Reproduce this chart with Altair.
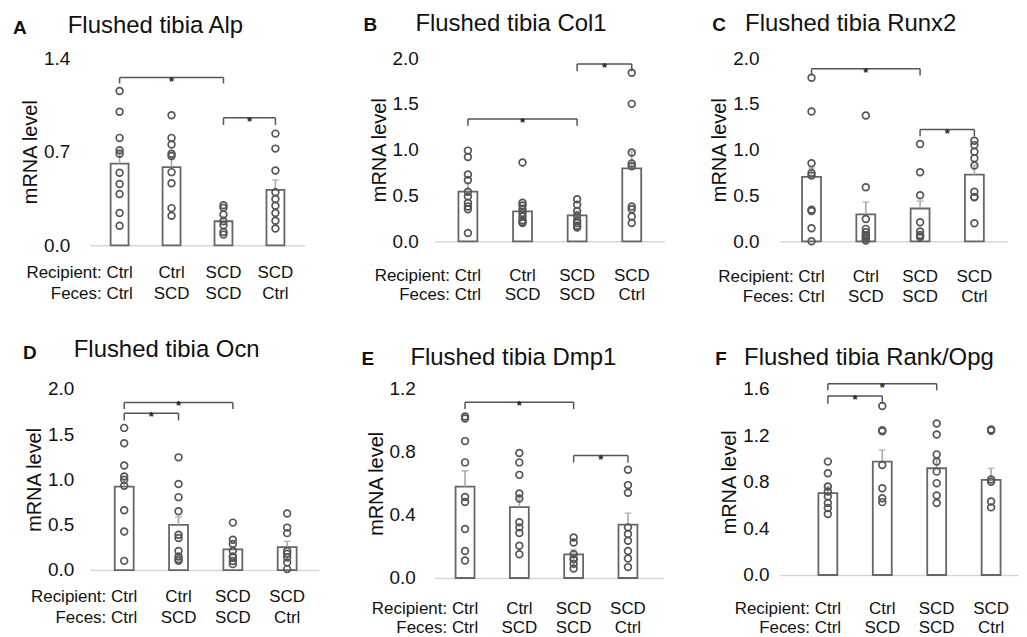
import altair as alt
import pandas as pd

FONT = "Liberation Sans"

# ---------------- data ----------------
GROUP_INDEX = [0, 1, 2, 3]
RECIPIENT = ["Ctrl", "Ctrl", "SCD", "SCD"]
FECES = ["Ctrl", "SCD", "SCD", "Ctrl"]

# A  Alp
ALP_MEAN = [0.61, 0.585, 0.18, 0.414]
ALP_ERR = [0.71, 0.65, 0.215, 0.489]
ALP_PTS = [
    [1.154, 0.998, 0.803, 0.71, 0.685, 0.542, 0.459, 0.384, 0.241, 0.146],
    [0.973, 0.803, 0.753, 0.685, 0.667, 0.547, 0.464, 0.278, 0.221],
    [0.30, 0.28, 0.23, 0.18, 0.15, 0.10, 0.08],
    [0.835, 0.723, 0.559, 0.396, 0.346, 0.296, 0.241, 0.183, 0.125],
]
ALP_BR_FROM = [0, 2]
ALP_BR_TO = [2, 3]
ALP_BR_Y = [1.254, 0.953]
ALP_BR_TICK = [1.21, 0.90]
ALP_TICKS = [0.0, 0.7, 1.4]

# B  Col1
COL1_MEAN = [0.543, 0.327, 0.284, 0.795]
COL1_ERR = [0.63, 0.40, 0.33, 0.98]
COL1_PTS = [
    [0.99, 0.92, 0.73, 0.67, 0.54, 0.49, 0.42, 0.38, 0.35, 0.09],
    [0.86, 0.42, 0.39, 0.35, 0.31, 0.27, 0.23, 0.21, 0.20],
    [0.46, 0.40, 0.33, 0.28, 0.23, 0.20, 0.17, 0.15],
    [1.84, 1.50, 0.97, 0.85, 0.82, 0.38, 0.35, 0.27, 0.20],
]
COL1_BR_FROM = [0, 2]
COL1_BR_TO = [2, 3]
COL1_BR_Y = [1.335, 1.935]
COL1_BR_TICK = [1.26, 1.856]
COL1_TICKS = [0.0, 0.5, 1.0, 1.5, 2.0]

# C  Runx2
RUNX2_MEAN = [0.703, 0.294, 0.358, 0.728]
RUNX2_ERR = [0.80, 0.43, 0.44, 0.83]
RUNX2_PTS = [
    [1.785, 1.416, 0.853, 0.746, 0.717, 0.344, 0.33, 0.143, 0.0],
    [1.373, 0.591, 0.244, 0.136, 0.10, 0.065, 0.05, 0.03, 0.01],
    [1.061, 0.753, 0.502, 0.208, 0.108, 0.07, 0.05, 0.047],
    [1.097, 1.05, 0.978, 0.907, 0.828, 0.541, 0.484, 0.48, 0.197],
]
RUNX2_BR_FROM = [0, 2]
RUNX2_BR_TO = [2, 3]
RUNX2_BR_Y = [1.882, 1.219]
RUNX2_BR_TICK = [1.81, 1.147]
RUNX2_TICKS = [0.0, 0.5, 1.0, 1.5, 2.0]

# D  Ocn
OCN_MEAN = [0.919, 0.497, 0.227, 0.252]
OCN_ERR = [1.0, 0.587, 0.26, 0.317]
OCN_PTS = [
    [1.568, 1.398, 1.153, 1.031, 0.995, 0.93, 0.659, 0.425, 0.101],
    [1.243, 0.948, 0.804, 0.649, 0.389, 0.353, 0.209, 0.15, 0.12, 0.101],
    [0.523, 0.335, 0.288, 0.209, 0.15, 0.137, 0.10, 0.065],
    [0.623, 0.468, 0.407, 0.209, 0.18, 0.137, 0.083, 0.01],
]
OCN_BR_FROM = [0, 0]
OCN_BR_TO = [2, 1]
OCN_BR_Y = [1.849, 1.73]
OCN_BR_TICK = [1.777, 1.65]
OCN_TICKS = [0.0, 0.5, 1.0, 1.5, 2.0]

# E  Dmp1
DMP1_MEAN = [0.579, 0.45, 0.15, 0.339]
DMP1_ERR = [0.679, 0.50, 0.18, 0.411]
DMP1_PTS = [
    [1.024, 1.011, 0.868, 0.733, 0.514, 0.482, 0.311, 0.171, 0.111],
    [0.793, 0.733, 0.654, 0.536, 0.504, 0.354, 0.321, 0.285, 0.204, 0.15],
    [0.257, 0.225, 0.15, 0.12, 0.118, 0.09, 0.06],
    [0.686, 0.589, 0.54, 0.321, 0.279, 0.236, 0.171, 0.124, 0.069],
]
DMP1_BR_FROM = [0, 2]
DMP1_BR_TO = [2, 3]
DMP1_BR_Y = [1.114, 0.776]
DMP1_BR_TICK = [1.071, 0.733]
DMP1_TICKS = [0.0, 0.4, 0.8, 1.2]

# F  Rank/Opg
RANK_MEAN = [0.703, 0.974, 0.917, 0.817]
RANK_ERR = [0.76, 1.073, 1.0, 0.917]
RANK_PTS = [
    [0.974, 0.874, 0.76, 0.717, 0.675, 0.618, 0.575, 0.524],
    [1.452, 1.244, 1.235, 0.945, 0.746, 0.66, 0.626],
    [1.301, 1.207, 1.036, 0.974, 0.888, 0.789, 0.683, 0.618],
    [1.25, 1.24, 0.82, 0.80, 0.632, 0.581],
]
RANK_BR_FROM = [0, 0]
RANK_BR_TO = [2, 1]
RANK_BR_Y = [1.643, 1.537]
RANK_BR_TICK = [1.586, 1.472]
RANK_TICKS = [0.0, 0.4, 0.8, 1.2, 1.6]

# ---------------- layout (styling only) ----------------
LAYOUT = {
    "A": dict(W=216, H=188, xdom=[-0.48, 3.47], bar=18, lpad=20, lx=-77, ly=-24, tx=-22, ty=-25, c1=33, c2=54),
    "B": dict(W=231, H=184, xdom=[-0.524, 3.507], bar=19, lpad=16, lx=-71, ly=-27, tx=-19, ty=-27, c1=40, c2=59),
    "C": dict(W=228, H=184, xdom=[-0.49, 3.51], bar=19, lpad=21, lx=-68, ly=-27, tx=-35, ty=-27, c1=41, c2=61),
    "D": dict(W=230, H=182, xdom=[-0.544, 3.49], bar=19, lpad=16, lx=-67, ly=-30, tx=-16, ty=-32, c1=32, c2=53),
    "E": dict(W=230, H=190, xdom=[-0.474, 3.561], bar=19, lpad=19, lx=-73, ly=-24, tx=-24, ty=-24, c1=36, c2=55),
    "F": dict(W=240, H=187, xdom=[-0.789, 3.421], bar=19, lpad=11, lx=-65, ly=-24, tx=-36, ty=-24, c1=39, c2=58),
}

BAR_STROKE = "#666666"
PT_STROKE = "#555555"
ERR_COLOR = "#a8a8a8"
BR_COLOR = "#555555"
TXT = "#111111"


def panel(letter, title, mean, err, pts, br_from, br_to, br_y, br_tick, ticks):
    lay = LAYOUT[letter]
    W, H = lay["W"], lay["H"]
    xs = alt.Scale(domain=lay["xdom"], nice=False, zero=False)
    ys = alt.Scale(domain=[0, ticks[-1]], nice=False, zero=True)
    xaxis = alt.Axis(labels=False, ticks=False, grid=False, domain=True,
                     domainColor="#d6d6d6", domainWidth=1.6)
    yaxis = alt.Axis(values=ticks, format=".1f", grid=False, domain=False, ticks=False,
                     labelFont=FONT, labelFontSize=19, labelColor=TXT, labelPadding=lay["lpad"],
                     titleFont=FONT, titleFontSize=20, titleFontWeight="normal", titleColor=TXT,
                     titlePadding=3)

    def X(f):
        return alt.X(f + ":Q", scale=xs, axis=xaxis, title=None)

    def Y(f):
        return alt.Y(f + ":Q", scale=ys, axis=yaxis, title="mRNA level")

    bars_df = pd.DataFrame({"i": GROUP_INDEX, "mean": mean, "err": err,
                            "rec": RECIPIENT, "fec": FECES})
    rows = []
    for gi, vals in zip(GROUP_INDEX, pts):
        for v in vals:
            rows.append({"i": gi, "v": v})
    pts_df = pd.DataFrame(rows)
    br_df = pd.DataFrame({"a": br_from, "b": br_to, "h": br_y, "t": br_tick})
    ends_df = pd.DataFrame({"e": list(br_from) + list(br_to),
                            "h": list(br_y) * 2, "t": list(br_tick) * 2})

    bars = alt.Chart(bars_df).mark_bar(orient="vertical", size=lay["bar"], fill="white",
                                       stroke=BAR_STROKE, strokeWidth=1.8).encode(
        x=X("i"), y=Y("mean"))
    err_line = alt.Chart(bars_df).mark_rule(color=ERR_COLOR, strokeWidth=1.6).encode(
        x=X("i"), y=Y("mean"), y2="err:Q")
    err_cap = alt.Chart(bars_df).mark_tick(orient="horizontal", size=7, thickness=1.6,
                                           color=ERR_COLOR).encode(x=X("i"), y=Y("err"))
    points = alt.Chart(pts_df).mark_point(shape="circle", filled=False, color=PT_STROKE,
                                          strokeWidth=1.7, size=46, opacity=1).encode(
        x=X("i"), y=Y("v"))
    br_line = alt.Chart(br_df).mark_rule(color=BR_COLOR, strokeWidth=1.5).encode(
        x=X("a"), x2="b:Q", y=Y("h"))
    br_end = alt.Chart(ends_df).mark_rule(color=BR_COLOR, strokeWidth=1.5).encode(
        x=X("e"), y=Y("h"), y2="t:Q")
    star = alt.Chart(br_df).transform_calculate(mid="(datum.a + datum.b) / 2").mark_text(
        text="*", font=FONT, fontSize=13, fontWeight="bold", color="#222222", dy=4).encode(
        x=X("mid"), y=Y("h"))

    rec_txt = alt.Chart(bars_df).mark_text(font=FONT, fontSize=17, color=TXT,
                                           baseline="alphabetic").encode(
        x=X("i"), y=alt.value(H + lay["c1"]), text="rec:N")
    fec_txt = alt.Chart(bars_df).mark_text(font=FONT, fontSize=17, color=TXT,
                                           baseline="alphabetic").encode(
        x=X("i"), y=alt.value(H + lay["c2"]), text="fec:N")
    head_df = pd.DataFrame({"i": [0], "r": ["Recipient:"], "f": ["Feces:"]})
    rec_head = alt.Chart(head_df).mark_text(font=FONT, fontSize=17, color=TXT, align="right",
                                            baseline="alphabetic", dx=-18).encode(
        x=X("i"), y=alt.value(H + lay["c1"]), text="r:N")
    fec_head = alt.Chart(head_df).mark_text(font=FONT, fontSize=17, color=TXT, align="right",
                                            baseline="alphabetic", dx=-18).encode(
        x=X("i"), y=alt.value(H + lay["c2"]), text="f:N")

    ttl_df = pd.DataFrame({"L": [letter], "T": [title]})
    letter_txt = alt.Chart(ttl_df).mark_text(font=FONT, fontSize=19, fontWeight="bold",
                                             color=TXT, align="left",
                                             baseline="alphabetic").encode(
        x=alt.value(lay["lx"]), y=alt.value(lay["ly"]), text="L:N")
    title_txt = alt.Chart(ttl_df).mark_text(font=FONT, fontSize=24, color=TXT, align="left",
                                            baseline="alphabetic").encode(
        x=alt.value(lay["tx"]), y=alt.value(lay["ty"]), text="T:N")

    return alt.layer(bars, err_line, err_cap, points, br_line, br_end, star,
                     rec_txt, fec_txt, rec_head, fec_head, letter_txt, title_txt).properties(
        width=W, height=H)


pA = panel("A", "Flushed tibia Alp", ALP_MEAN, ALP_ERR, ALP_PTS,
           ALP_BR_FROM, ALP_BR_TO, ALP_BR_Y, ALP_BR_TICK, ALP_TICKS)
pB = panel("B", "Flushed tibia Col1", COL1_MEAN, COL1_ERR, COL1_PTS,
           COL1_BR_FROM, COL1_BR_TO, COL1_BR_Y, COL1_BR_TICK, COL1_TICKS)
pC = panel("C", "Flushed tibia Runx2", RUNX2_MEAN, RUNX2_ERR, RUNX2_PTS,
           RUNX2_BR_FROM, RUNX2_BR_TO, RUNX2_BR_Y, RUNX2_BR_TICK, RUNX2_TICKS)
pD = panel("D", "Flushed tibia Ocn", OCN_MEAN, OCN_ERR, OCN_PTS,
           OCN_BR_FROM, OCN_BR_TO, OCN_BR_Y, OCN_BR_TICK, OCN_TICKS)
pE = panel("E", "Flushed tibia Dmp1", DMP1_MEAN, DMP1_ERR, DMP1_PTS,
           DMP1_BR_FROM, DMP1_BR_TO, DMP1_BR_Y, DMP1_BR_TICK, DMP1_TICKS)
pF = panel("F", "Flushed tibia Rank/Opg", RANK_MEAN, RANK_ERR, RANK_PTS,
           RANK_BR_FROM, RANK_BR_TO, RANK_BR_Y, RANK_BR_TICK, RANK_TICKS)

chart = alt.concat(pA, pB, pC, pD, pE, pF, columns=3,
                   spacing={"row": 144, "column": 116},
                   bounds="flush", align="each").properties(
    padding={"left": 5, "top": 3, "right": 0, "bottom": 2},
    background="white",
).configure_view(stroke=None)

chart.save("out.html", embed_options={"renderer": "svg", "actions": False})
